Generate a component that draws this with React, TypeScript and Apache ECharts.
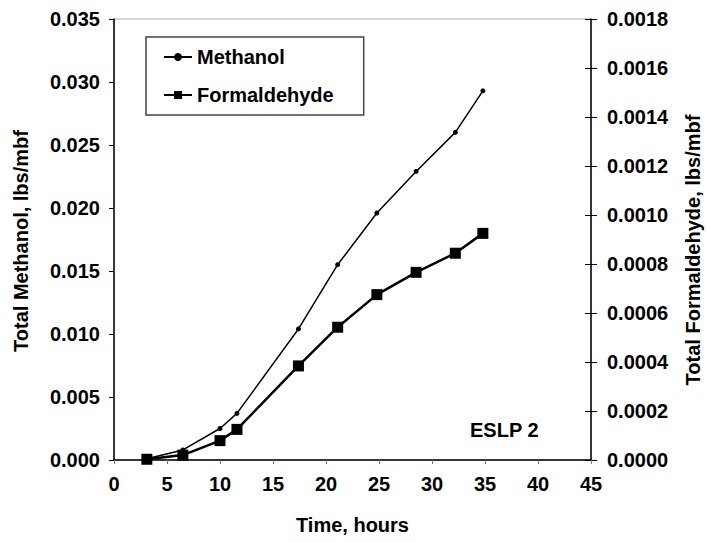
import React, { useEffect, useRef } from "react";
import * as echarts from "echarts";

const hours = [3.1, 6.5, 10.0, 11.6, 17.4, 21.1, 24.8, 28.5, 32.2, 34.8];
const methanol = [0.0001, 0.0008, 0.0025, 0.0037, 0.0104, 0.0155, 0.0196, 0.0229, 0.026, 0.0293];
const formaldehyde = [0.000003, 0.00002, 0.000079, 0.000125, 0.000384, 0.000542, 0.000675, 0.000766, 0.000844, 0.000925];

const FONT = "'Liberation Sans', Arial, sans-serif";

export default function App() {
  const ref = useRef<HTMLDivElement>(null);
  useEffect(() => {
    if (!ref.current) return;
    const chart = echarts.init(ref.current, undefined, { renderer: "svg" });
    const labelStyle = { color: "#000", fontSize: 20, fontWeight: "bold" as const, fontFamily: FONT };
    const titleStyle = { fill: "#000", fontSize: 20, fontWeight: "bold" as const, fontFamily: FONT, align: "center" as const, verticalAlign: "middle" as const };
    chart.setOption({
      animation: false,
      backgroundColor: "#fff",
      grid: { left: 114, right: 116, top: 19, bottom: 82, show: true, borderColor: "#aaa", borderWidth: 1 },
      legend: {
        left: 146,
        top: 37,
        orient: "vertical",
        padding: [10, 30, 10, 17],
        itemGap: 18,
        itemWidth: 28,
        itemHeight: 10,
        borderColor: "#444",
        borderWidth: 1.5,
        backgroundColor: "#fff",
        textStyle: { color: "#000", fontSize: 20, fontWeight: "bold", fontFamily: FONT },
        data: ["Methanol", "Formaldehyde"],
      },
      xAxis: {
        type: "value",
        min: 0,
        max: 45,
        interval: 5,
        name: "Time, hours",
        nameLocation: "middle",
        nameGap: 55,
        nameTextStyle: labelStyle,
        axisLine: { show: true, lineStyle: { color: "#000", width: 1.5 } },
        axisTick: { show: true, length: 4, lineStyle: { color: "#777" } },
        splitLine: { show: false },
        axisLabel: { ...labelStyle, margin: 14 },
      },
      yAxis: [
        {
          type: "value",
          min: 0,
          max: 0.035,
          interval: 0.005,
          axisLine: { show: true, lineStyle: { color: "#000", width: 1.5 } },
          axisTick: { show: true, length: 5, lineStyle: { color: "#000" } },
          splitLine: { show: false },
          axisLabel: { ...labelStyle, margin: 14, formatter: (v: number) => v.toFixed(3) },
        },
        {
          type: "value",
          position: "right",
          min: 0,
          max: 0.0018,
          interval: 0.0002,
          axisLine: { show: true, lineStyle: { color: "#000", width: 1.5 } },
          axisTick: { show: true, length: 6, lineStyle: { color: "#000" } },
          splitLine: { show: false },
          axisLabel: { ...labelStyle, margin: 16, formatter: (v: number) => v.toFixed(4) },
        },
        {
          type: "value",
          position: "right",
          min: 0,
          max: 0.0018,
          interval: 0.0002,
          axisLine: { show: false },
          axisTick: { show: true, inside: true, length: 6, lineStyle: { color: "#000" } },
          splitLine: { show: false },
          axisLabel: { show: false },
        },
      ],
      series: [
        {
          name: "Methanol",
          type: "line",
          yAxisIndex: 0,
          data: hours.map((h, i) => [h, methanol[i]]),
          symbol: "circle",
          symbolSize: 5,
          lineStyle: { color: "#000", width: 1.5 },
          itemStyle: { color: "#000" },
        },
        {
          name: "Formaldehyde",
          type: "line",
          yAxisIndex: 1,
          data: hours.map((h, i) => [h, formaldehyde[i]]),
          symbol: "rect",
          symbolSize: 11,
          lineStyle: { color: "#000", width: 2.5 },
          itemStyle: { color: "#000" },
        },
      ],
      graphic: [
        {
          type: "text",
          left: 470,
          top: 420,
          style: { text: "ESLP 2", fill: "#000", fontSize: 20, fontWeight: "bold", fontFamily: FONT },
        },
        {
          type: "text",
          x: 21,
          y: 241,
          rotation: Math.PI / 2,
          style: { ...titleStyle, text: "Total Methanol, lbs/mbf" },
        },
        {
          type: "text",
          x: 693,
          y: 250,
          rotation: Math.PI / 2,
          style: { ...titleStyle, text: "Total Formaldehyde, lbs/mbf" },
        },
      ],
    });
    return () => chart.dispose();
  }, []);
  return <div ref={ref} style={{ width: 707, height: 542, position: "absolute", left: 0, top: 0 }} />;
}
